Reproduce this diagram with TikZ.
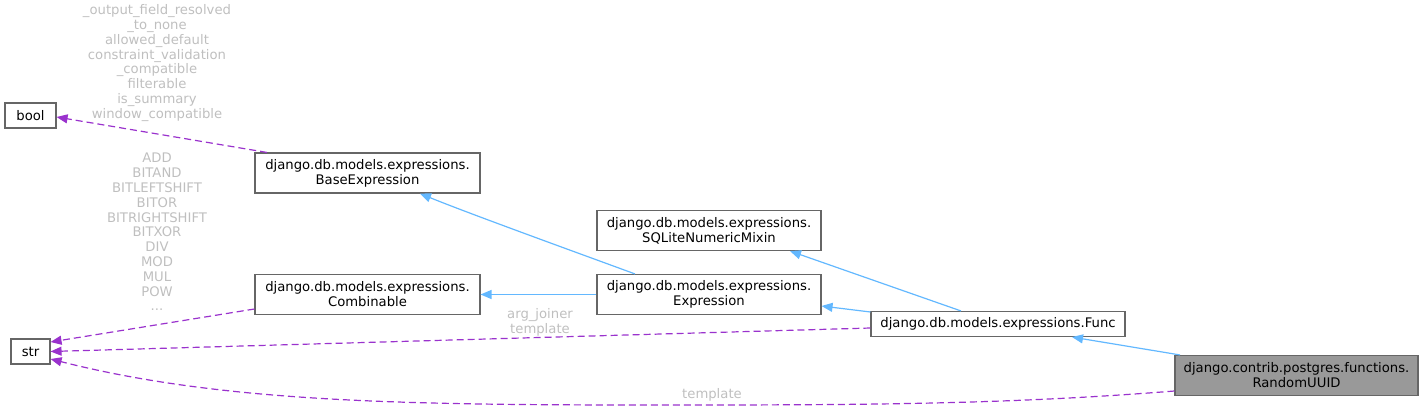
\documentclass[tikz,border=0pt]{standalone}
\usepackage{fontspec}
\setmainfont{DejaVu Sans}
\usetikzlibrary{arrows.meta}
\definecolor{edgeblue}{HTML}{63B8FF}
\definecolor{edgepurple}{HTML}{9A32CD}
\definecolor{lblgray}{HTML}{BFBFBF}
\definecolor{boxgray}{HTML}{666666}
\definecolor{curfill}{HTML}{999999}
\tikzset{
  cls/.style={draw=boxgray, line width=1.1pt, fill=white, inner sep=0pt, align=center,
    font=\fontsize{13.2}{15}\selectfont, text=black},
  cur/.style={cls, fill=curfill},
  inh/.style={draw=edgeblue, line width=1.2pt, -{Triangle[length=11pt,width=9pt]}},
  dep/.style={draw=edgepurple, line width=1.2pt, dash pattern=on 7pt off 4pt,
    -{Triangle[length=11pt,width=9pt,fill=edgepurple]}},
  lbl/.style={text=lblgray, align=center, inner sep=0pt, font=\fontsize{13.2}{14.8}\selectfont}
}
\begin{document}
\begin{tikzpicture}[x=1pt,y=-1pt]
\useasboundingbox (0,0) rectangle (1423,409);
\node[cls, minimum width=51pt, minimum height=25pt] (bool) at (30.5,115.5) {bool};
\node[cls, minimum width=39pt, minimum height=25pt] (str) at (30.5,351.5) {str};
\node[cls, minimum width=225pt, minimum height=40pt] (base) at (367.5,173) {django.db.models.expressions.\\BaseExpression};
\node[cls, minimum width=225pt, minimum height=40pt] (comb) at (367.5,294.5) {django.db.models.expressions.\\Combinable};
\node[cls, minimum width=224pt, minimum height=40pt] (sqlite) at (709,230.5) {django.db.models.expressions.\\SQLiteNumericMixin};
\node[cls, minimum width=224pt, minimum height=40pt] (expr) at (709,294.5) {django.db.models.expressions.\\Expression};
\node[cls, minimum width=254pt, minimum height=25pt] (func) at (998,324) {django.db.models.expressions.Func};
\node[cur, minimum width=243pt, minimum height=40pt] (rand) at (1296.5,375.5) {django.contrib.postgres.functions.\\RandomUUID};

% inheritance
\draw[inh] ([xshift=-116.5pt]rand.north) -- ([xshift=74pt]func.south);
\draw[inh] ([xshift=-37pt]func.north) -- ([xshift=81pt]sqlite.south);
\draw[inh] ([yshift=12pt]func.west) -- ([yshift=-11.5pt]expr.east);
\draw[inh] (expr.west) -- (comb.east);
\draw[inh] ([xshift=-74pt]expr.north) .. controls (600,261) and (470,214) .. ([xshift=52.5pt]base.south);

% usage
\draw[dep] ([xshift=-100.5pt]base.north) -- ([yshift=-1.5pt]bool.east);
\draw[dep] ([yshift=-14.5pt]comb.west) -- ([yshift=9.5pt]str.east);
\draw[dep] ([yshift=-4pt]func.west) -- (str.east);
\draw[dep] ([yshift=-15.5pt]rand.west) .. controls (1000,405) and (850,405) .. (650,405)
  .. controls (400,405) and (220,402) .. ([yshift=-7.5pt]str.east);

\node[lbl] (l1) at (157,63) {\_output\_field\_resolved\\\_to\_none\\allowed\_default\\constraint\_validation\\\_compatible\\filterable\\is\_summary\\window\_compatible};
\node[lbl] (l2) at (157,232) {ADD\\BITAND\\BITLEFTSHIFT\\BITOR\\BITRIGHTSHIFT\\BITXOR\\DIV\\MOD\\MUL\\POW\\...};
\node[lbl] (l3) at (540,322) {arg\_joiner\\template};
\node[lbl] (l4) at (712,395) {template};
\end{tikzpicture}
\end{document}
